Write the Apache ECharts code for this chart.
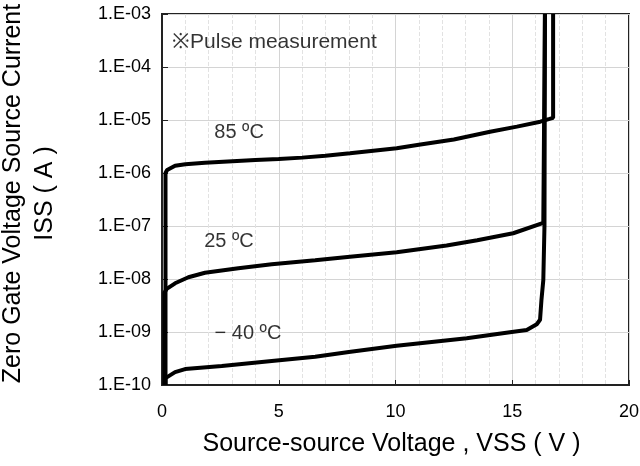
<!DOCTYPE html>
<html lang="en">
<head>
    <meta charset="UTF-8">
    <title>ISS - VSS</title>
    <script src="https://cdn.jsdelivr.net/npm/echarts@6/dist/echarts.min.js"></script>
    <style type="text/css">
    html, body { margin: 0; padding: 0; background: #fff; }
    #main { width: 640px; height: 466px; }
    </style>
</head>
<body>
    <div id="main"></div>
    <script type="text/javascript">
        // x: VSS (V), y: ISS (A)
        var curve85 = [
            [0.15, 1e-10], [0.15, 1.0e-6], [0.22, 1.14e-6], [0.56, 1.37e-6], [1.0, 1.46e-6],
            [1.84, 1.56e-6], [4.0, 1.76e-6], [5.0, 1.84e-6], [6.0, 1.95e-6], [7.0, 2.12e-6],
            [8.05, 2.36e-6], [10.05, 2.92e-6], [11.0, 3.4e-6], [12.5, 4.3e-6], [14.05, 6.0e-6],
            [15.2, 7.5e-6], [16.2, 9.3e-6], [16.6, 1.05e-5], [16.75, 1.1e-5], [16.75, 1e-3]
        ];
        var curve25 = [
            [0.1, 1e-10], [0.1, 5.5e-9], [0.2, 6.5e-9], [0.56, 8.3e-9], [1.13, 1.08e-8],
            [1.84, 1.31e-8], [3.27, 1.59e-8], [4.7, 1.89e-8], [6.56, 2.25e-8], [8.05, 2.63e-8],
            [10.05, 3.2e-8], [12.19, 4.3e-8], [13.5, 5.4e-8], [15.04, 7.3e-8], [16.33, 1.15e-7],
            [16.4, 1.2e-7], [16.4, 1e-3]
        ];
        var curveM40 = [
            [0.15, 1e-10], [0.15, 1.35e-10], [0.56, 1.75e-10], [0.99, 2.0e-10], [2.56, 2.28e-10],
            [4.7, 2.84e-10], [6.56, 3.4e-10], [8.0, 4.2e-10], [10.05, 5.5e-10], [13.05, 7.6e-10],
            [14.9, 9.9e-10], [15.62, 1.09e-9], [16.05, 1.4e-9], [16.19, 1.7e-9], [16.25, 4e-9],
            [16.33, 9.5e-9], [16.38, 1e-7], [16.4, 1e-3]
        ];
        // text notes placed in data coordinates
        var notes = [
            { name: '※Pulse measurement', value: [0.43, 2.95e-4], align: 'left', size: 21 },
            { name: '85 ºC', value: [3.3, 5.9e-6], align: 'center', size: 20 },
            { name: '25 ºC', value: [2.87, 5.0e-8], align: 'center', size: 20 },
            { name: '− 40 ºC', value: [3.68, 9.5e-10], align: 'center', size: 20 }
        ];
        var xMin = 0, xMax = 20, xStep = 5;
        var yMin = 1e-10, yMax = 1e-3;

        var myChart = echarts.init(document.getElementById('main'));
        var font = 'Liberation Sans';
        var lineStyle = { color: '#000', width: 4 };

        function curveSeries(name, data) {
            return {
                name: name,
                type: 'line',
                data: data,
                symbol: 'none',
                lineStyle: lineStyle,
                clip: true,
                z: 3
            };
        }

        var option = {
            animation: false,
            backgroundColor: '#fff',
            textStyle: { fontFamily: font },
            grid: {
                left: 162, right: 11, top: 14, bottom: 81,
                outerBoundsMode: 'none',
                containLabel: false,
                show: true,
                borderColor: '#222',
                borderWidth: 2
            },
            xAxis: {
                type: 'value',
                min: xMin, max: xMax, interval: xStep,
                name: 'Source-source Voltage , VSS ( V )',
                nameLocation: 'middle',
                nameGap: 47,
                nameTextStyle: { fontSize: 25, color: '#000', fontFamily: font, padding: [0, 8, 0, 0] },
                axisLine: { show: true, lineStyle: { color: '#222', width: 2 } },
                axisTick: { show: true, inside: true, length: 5, lineStyle: { color: '#222' } },
                axisLabel: { fontSize: 18, color: '#000', margin: 18, fontFamily: font },
                splitLine: { show: true, lineStyle: { color: '#d4d4d4', width: 1 } },
                minorTick: { show: false, splitNumber: 5 },
                minorSplitLine: { show: true, lineStyle: { color: '#e2e2e2', type: 'dashed', width: 1 } }
            },
            yAxis: {
                type: 'log',
                logBase: 10,
                min: yMin, max: yMax,
                name: 'Zero Gate Voltage Source Current\nISS ( A )',
                nameLocation: 'middle',
                nameGap: 101,
                nameTextStyle: { fontSize: 25, color: '#000', lineHeight: 32, fontFamily: font, padding: [0, 0, 0, 12] },
                axisLine: { show: true, lineStyle: { color: '#222', width: 2 } },
                axisTick: { show: true, inside: true, length: 6, lineStyle: { color: '#222' } },
                axisLabel: {
                    fontSize: 18, color: '#000', margin: 11, fontFamily: font,
                    formatter: function (v) {
                        var e = Math.round(Math.log10(v));
                        var s = Math.abs(e) < 10 ? '0' + Math.abs(e) : '' + Math.abs(e);
                        return '1.E' + (e < 0 ? '-' : '+') + s;
                    }
                },
                splitLine: { show: true, lineStyle: { color: '#d4d4d4', width: 1 } }
            },
            series: [
                curveSeries('85 ºC', curve85),
                curveSeries('25 ºC', curve25),
                curveSeries('− 40 ºC', curveM40),
                {
                    name: 'notes',
                    type: 'scatter',
                    symbolSize: 0,
                    silent: true,
                    z: 4,
                    data: notes.map(function (n) {
                        return {
                            name: n.name,
                            value: n.value,
                            label: {
                                show: true,
                                position: 'inside',
                                align: n.align,
                                formatter: '{b}',
                                fontSize: n.size,
                                color: '#000',
                                fontFamily: font
                            }
                        };
                    })
                }
            ]
        };

        myChart.setOption(option);
    </script>
</body>
</html>
